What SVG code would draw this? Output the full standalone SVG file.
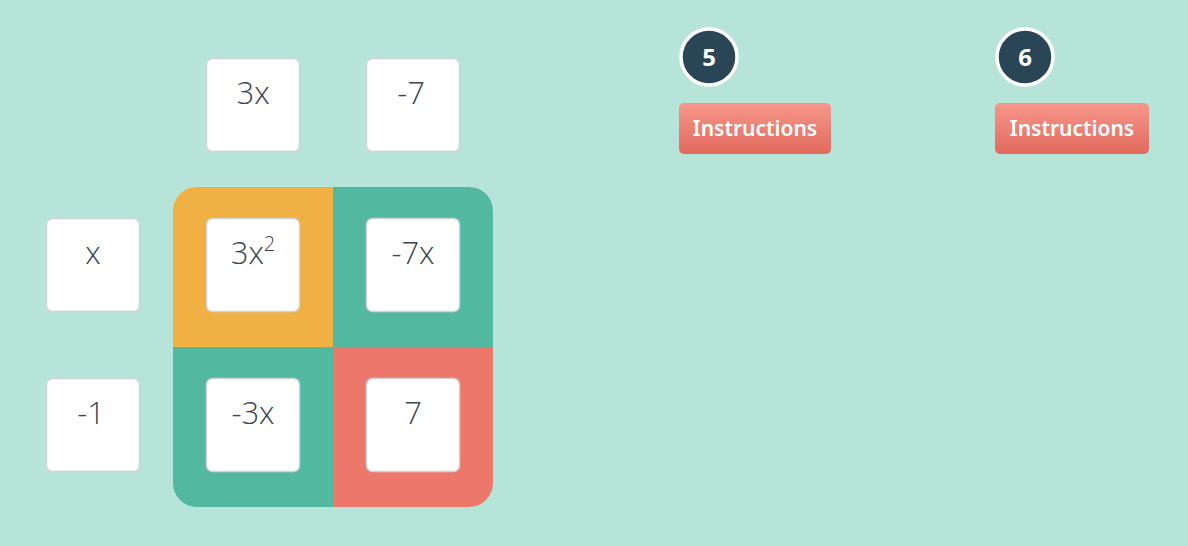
<svg xmlns="http://www.w3.org/2000/svg" width="1188" height="546" viewBox="0 0 1188 546">
<defs>
<linearGradient id="btn" x1="0" y1="0" x2="0" y2="1">
<stop offset="0" stop-color="#f7978b"/>
<stop offset="1" stop-color="#e06a5d"/>
</linearGradient>
<clipPath id="bigclip"><rect x="173" y="187" width="320" height="320" rx="24"/></clipPath>
</defs>
<style>
.tile{fill:#ffffff;stroke:#cfd3d6;stroke-width:1.5}
.term{font-family:"Open Sans","Liberation Sans",sans-serif;font-weight:300;font-size:31px;fill:#3d4650;text-anchor:middle}
.sup{font-size:20px}
.num{fill:#2a4556;stroke:#ffffff;stroke-width:3.5}
.numt{font-family:"Noto Sans","Liberation Sans",sans-serif;font-weight:700;font-size:24px;fill:#ffffff;text-anchor:middle}
.btnr{fill:url(#btn)}
.btnt{font-family:"Noto Sans","Lato","Liberation Sans",sans-serif;font-weight:600;font-size:21px;fill:#ffffff;text-anchor:middle}
</style>
<rect x="0" y="0" width="1188" height="546" fill="#b6e4d8"/>
<g id="grid" clip-path="url(#bigclip)">
<rect x="173" y="187" width="160" height="160" fill="#f0b043"/>
<rect x="333" y="187" width="160" height="160" fill="#53b8a0"/>
<rect x="173" y="347" width="160" height="160" fill="#53b8a0"/>
<rect x="333" y="347" width="160" height="160" fill="#ec776b"/>
</g>
<g id="connectors"></g>
<g id="top-3x"><rect class="tile" x="206.5" y="58.5" width="93" height="93" rx="6"/><text class="term" x="253" y="104">3x</text></g>
<g id="top-neg7"><rect class="tile" x="366.5" y="58.5" width="93" height="93" rx="6"/><text class="term" x="411" y="104">-7</text></g>
<g id="left-x"><rect class="tile" x="46.5" y="218.5" width="93" height="93" rx="6"/><text class="term" x="93" y="264">x</text></g>
<g id="left-neg1"><rect class="tile" x="46.5" y="378.5" width="93" height="93" rx="6"/><text class="term" x="91" y="424">-1</text></g>
<g id="cell-3x2"><rect class="tile" x="206.5" y="218.5" width="93" height="93" rx="6"/><text class="term" x="253" y="264">3x<tspan class="sup" dy="-13">2</tspan></text></g>
<g id="cell-neg7x"><rect class="tile" x="366.5" y="218.5" width="93" height="93" rx="6"/><text class="term" x="413" y="264">-7x</text></g>
<g id="cell-neg3x"><rect class="tile" x="206.5" y="378.5" width="93" height="93" rx="6"/><text class="term" x="253" y="424">-3x</text></g>
<g id="cell-7"><rect class="tile" x="366.5" y="378.5" width="93" height="93" rx="6"/><text class="term" x="413" y="424">7</text></g>
<g id="step5"><circle class="num" cx="709" cy="57" r="28"/><text class="numt" x="709" y="65.5">5</text></g>
<g id="btn5"><rect class="btnr" x="679" y="103" width="152" height="51" rx="5"/><text class="btnt" x="755" y="136">Instructions</text></g>
<g id="step6"><circle class="num" cx="1025" cy="57" r="28"/><text class="numt" x="1025" y="65.5">6</text></g>
<g id="btn6"><rect class="btnr" x="995" y="103" width="154" height="51" rx="5"/><text class="btnt" x="1072" y="136">Instructions</text></g>
</svg>
